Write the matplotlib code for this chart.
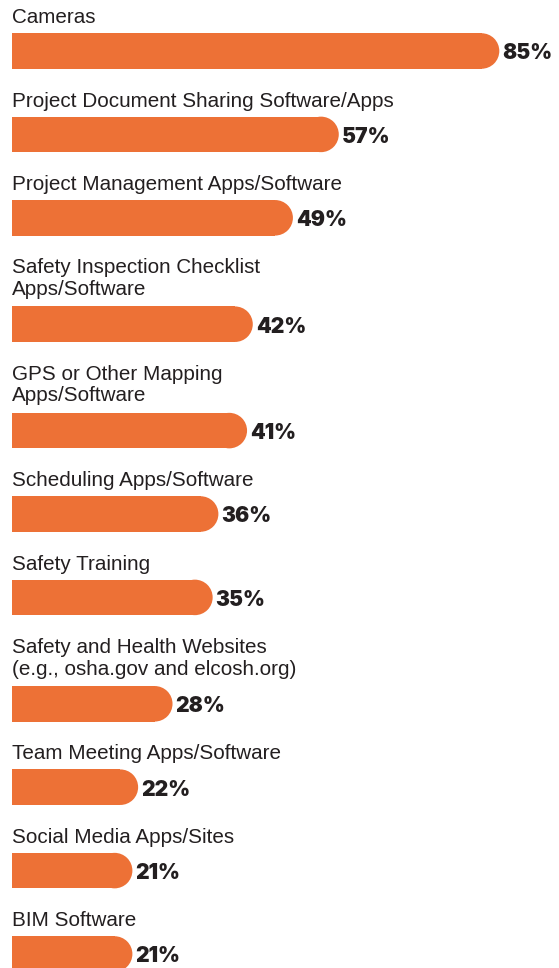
import matplotlib
matplotlib.use("Agg")
import matplotlib.pyplot as plt
from matplotlib.patches import Ellipse

# ---- data ----
categories = [
    "Cameras",
    "Project Document Sharing Software/Apps",
    "Project Management Apps/Software",
    "Safety Inspection Checklist\nApps/Software",
    "GPS or Other Mapping\nApps/Software",
    "Scheduling Apps/Software",
    "Safety Training",
    "Safety and Health Websites\n(e.g., osha.gov and elcosh.org)",
    "Team Meeting Apps/Software",
    "Social Media Apps/Sites",
    "BIM Software",
]
values = [85, 57, 49, 42, 41, 36, 35, 28, 22, 21, 21]
value_labels = [f"{v}%" for v in values]

# ---- styling / layout ----
W, H = 559, 968
PX_PER_PCT = 5.733
LEFT_PX = 12
BAR_H = 35.5
BAR_COLOR = "#ED7136"
TEXT_COLOR = "#231F20"
LABEL_FONT = "Liberation Sans"
LABEL_SIZE = 14.9
VALUE_FONT = "Inter"
VALUE_SIZE = 15.1
LINE_STEP = 21.7
FIRST_CENTER = 51.0
STEP_SINGLE = 83.4
STEP_EXTRA_LINE = 23.0

fig = plt.figure(figsize=(W / 100, H / 100), dpi=100)
fig.patch.set_facecolor("white")
ax = fig.add_axes([0, 0, 1, 1])
ax.set_xlim(-LEFT_PX / PX_PER_PCT, (W - LEFT_PX) / PX_PER_PCT)
ax.set_ylim(H, 0)
ax.axis("off")

# vertical positions of bars (pixel units) derived from label line counts
nlines = [c.count("\n") + 1 for c in categories]
centers = []
y = FIRST_CENTER
for i, n in enumerate(nlines):
    if i > 0:
        y += STEP_SINGLE + STEP_EXTRA_LINE * (n - 1)
    centers.append(y)

r_x = (BAR_H / 2) / PX_PER_PCT  # radius of rounded end in data (%) units

ax.barh(centers, [v - r_x for v in values], height=BAR_H, left=0,
        color=BAR_COLOR, edgecolor="none", linewidth=0)
for v, c in zip(values, centers):
    ax.add_patch(Ellipse((v - r_x, c), width=2 * r_x, height=BAR_H,
                         facecolor=BAR_COLOR, edgecolor="none", linewidth=0))

for cat, n, c, v, vl in zip(categories, nlines, centers, values, value_labels):
    bar_top = c - BAR_H / 2
    gap = 10.0 if n == 1 else 11.5
    for j, line in enumerate(cat.split("\n")):
        base = bar_top - gap - (n - 1 - j) * LINE_STEP
        ax.text(0, base, line, family=LABEL_FONT, fontsize=LABEL_SIZE,
                color=TEXT_COLOR, ha="left", va="baseline")
    ax.text(v + 3.0 / PX_PER_PCT, c + 8.4, vl, family=VALUE_FONT,
            fontweight=900, fontsize=VALUE_SIZE, color=TEXT_COLOR,
            ha="left", va="baseline")

fig.savefig("out.png", dpi=100, facecolor="white")
